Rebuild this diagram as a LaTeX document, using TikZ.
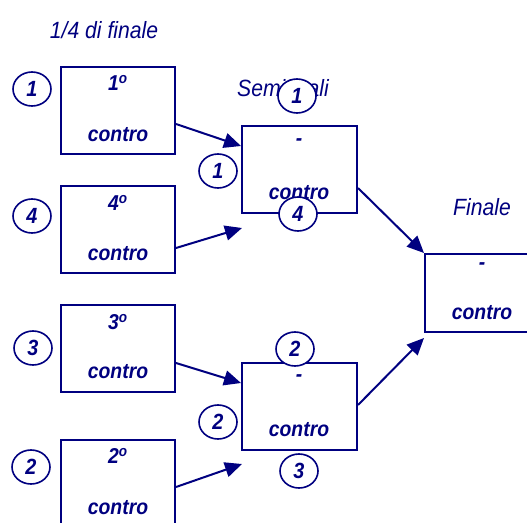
\documentclass[tikz,border=0pt]{standalone}
\usepackage{fontspec}
\setmainfont[FakeStretch=0.9]{Liberation Sans}
\usetikzlibrary{arrows.meta,shapes.geometric}
\definecolor{navyc}{HTML}{000080}
\tikzset{
  matchbox/.style={draw=navyc,line width=2pt,minimum width=114pt,minimum height=87pt,inner sep=0pt},
  lab/.style={text=navyc,inner sep=0pt,font=\fontsize{23.5}{27}\selectfont\itshape},
  ct/.style={text=navyc,inner sep=0pt,font=\fontsize{21.5}{25}\selectfont\bfseries\itshape},
  num/.style={ellipse,draw=navyc,fill=white,line width=1.6pt,minimum width=38pt,minimum height=34pt,inner sep=0pt,text=navyc,font=\fontsize{22}{25}\selectfont\bfseries\itshape},
  arr/.style={draw=navyc,line width=2pt,-{Triangle[length=17pt,width=15pt]}}
}
\begin{document}
\begin{tikzpicture}[x=1pt,y=-1pt]
\clip (0,0) rectangle (527,522);
\fill[white] (0,0) rectangle (527,522);
% headings
\node[lab] (hq) at (104,30) {1/4 di finale};
\node[lab] (hs) at (283,88) {Semifinali};
\node[lab] (hf) at (482,207) {Finale};
% quarter-final boxes
\node[matchbox] (q1) at (118,110.5) {};
\node[matchbox] (q4) at (118,229.5) {};
\node[matchbox] (q3) at (118,348.5) {};
\node[matchbox] (q2) at (118,483.5) {};
\node[ct] (q1a) at (118,83) {1\textsuperscript{o}};
\node[ct] (q1b) at (118,135) {contro};
\node[ct] (q4a) at (118,203) {4\textsuperscript{o}};
\node[ct] (q4b) at (118,254) {contro};
\node[ct] (q3a) at (118,322) {3\textsuperscript{o}};
\node[ct] (q3b) at (118,372) {contro};
\node[ct] (q2a) at (118,456) {2\textsuperscript{o}};
\node[ct] (q2b) at (118,508) {contro};
% semifinal boxes
\node[matchbox,minimum width=115pt] (s1) at (299.5,169.5) {};
\node[matchbox,minimum width=115pt] (s2) at (299.5,406.5) {};
\node[ct] (s1a) at (299,142) {-};
\node[ct] (s1b) at (299,193) {contro};
\node[ct] (s2a) at (299,378) {-};
\node[ct] (s2b) at (299,430) {contro};
% final box
\node[matchbox,minimum width=115pt,minimum height=78pt] (f) at (482.5,293) {};
\node[ct] (fa) at (482,266) {-};
\node[ct] (fb) at (482,313) {contro};
% free arrow ends
\coordinate (e4) at (242,228);
\coordinate (e2) at (242,464);
\coordinate (ef) at (424,338);
% connectors
\draw[arr] ([yshift=-13.5pt]q1.east) -- ([yshift=23.5pt]s1.west);
\draw[arr] ([yshift=-18.5pt]q4.east) -- (e4);
\draw[arr] ([yshift=-14.5pt]q3.east) -- ([yshift=23.5pt]s2.west);
\draw[arr] ([yshift=-3.5pt]q2.east) -- (e2);
\draw[arr] ([yshift=-18.5pt]s1.east) -- (f.north west);
\draw[arr] ([yshift=1.5pt]s2.east) -- (ef);
% seed circles
\node[num] (c1) at (32,89) {1};
\node[num] (c4) at (32,216) {4};
\node[num] (c3) at (33,348) {3};
\node[num] (c2) at (31,467) {2};
\node[num] (t1) at (297,96) {1};
\node[num] (l1) at (218,171) {1};
\node[num] (b4) at (298,214) {4};
\node[num] (t2) at (295,349) {2};
\node[num] (l2) at (218,422) {2};
\node[num] (b3) at (299,471) {3};
\end{tikzpicture}
\end{document}
